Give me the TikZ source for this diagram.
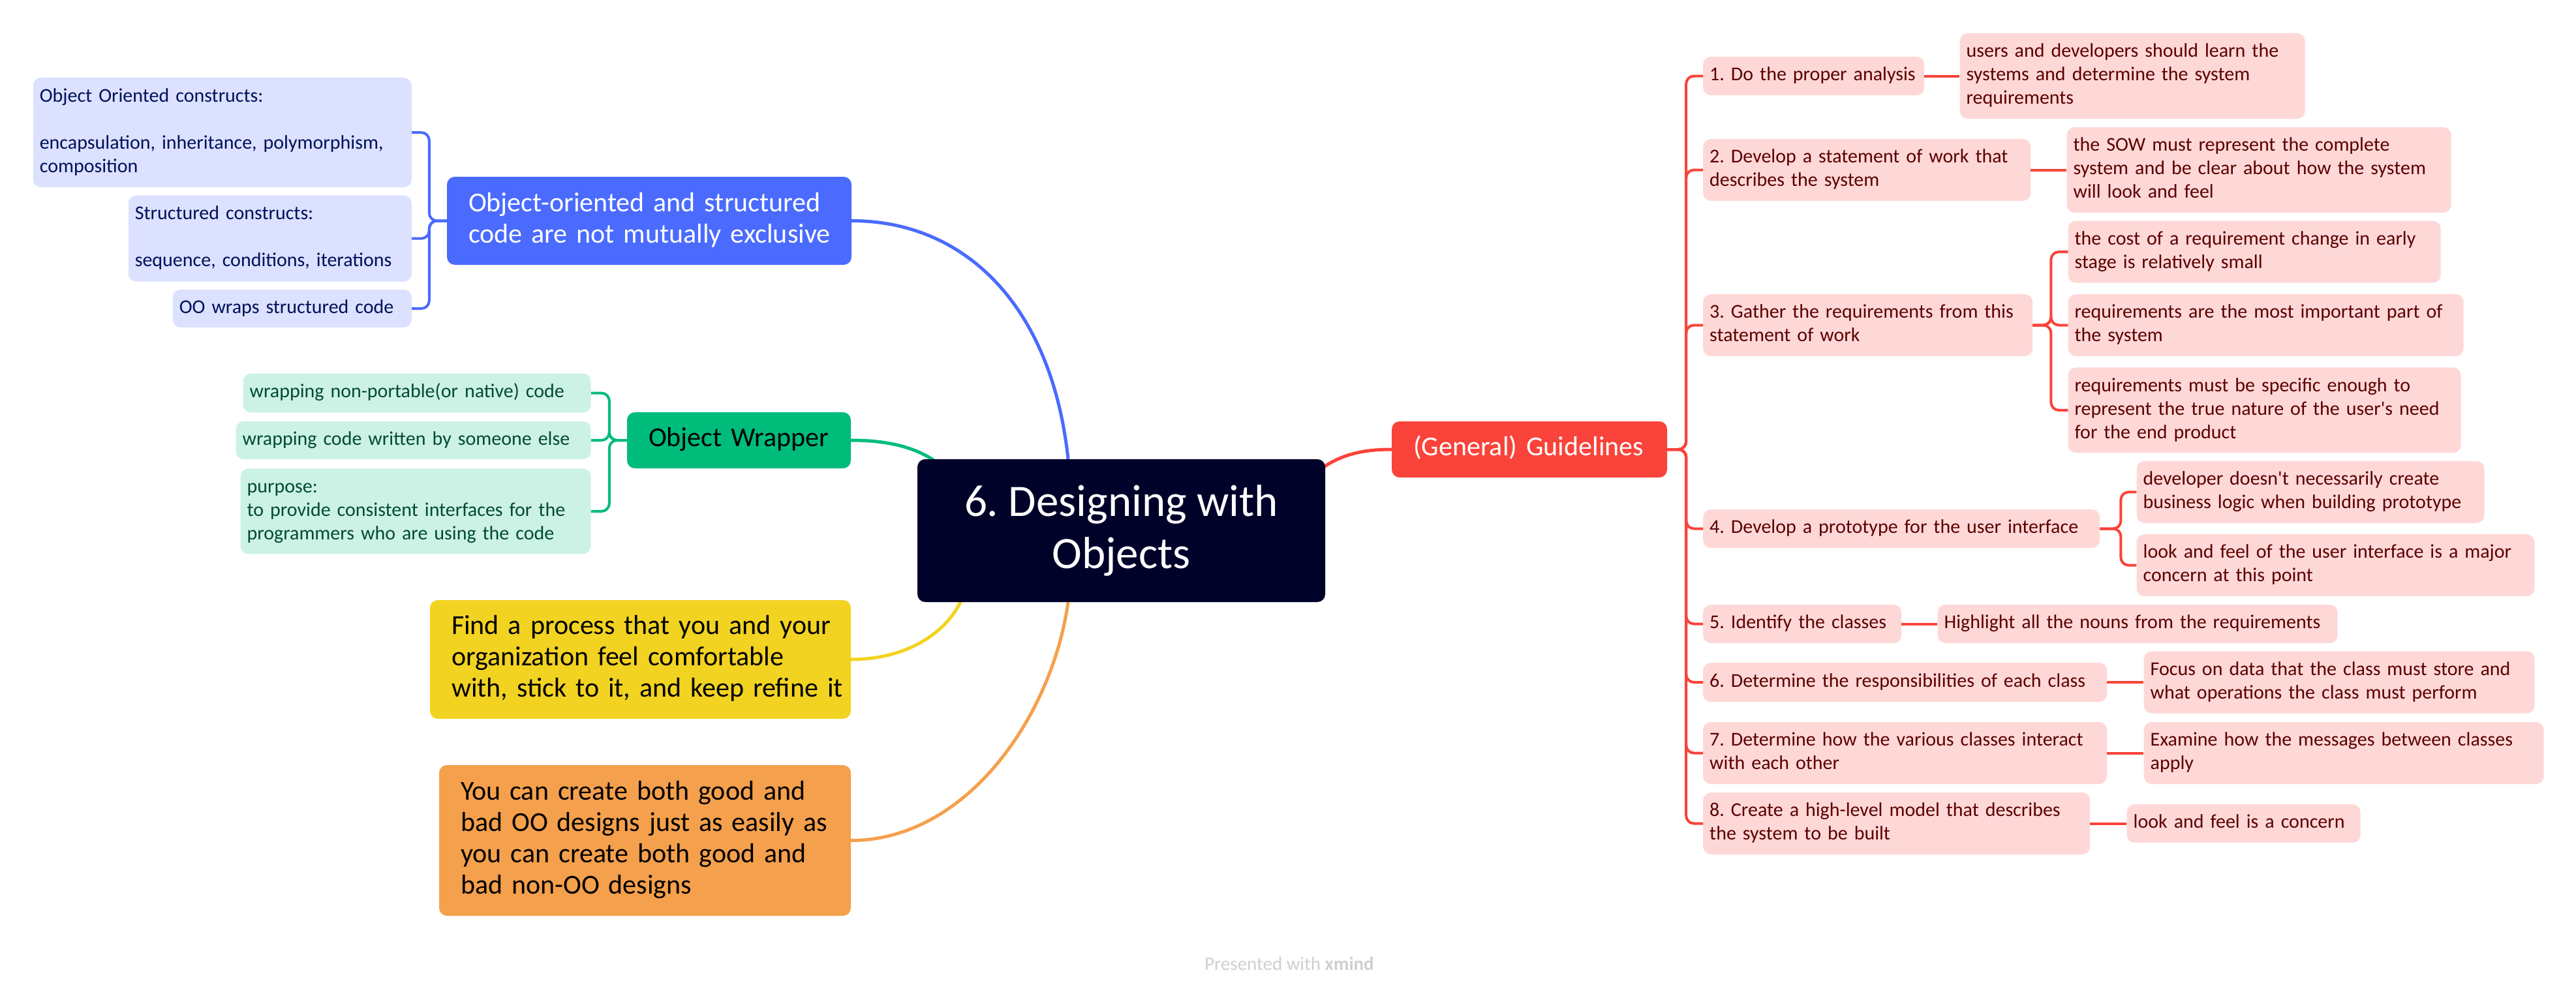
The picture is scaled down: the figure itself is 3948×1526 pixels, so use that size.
\documentclass[tikz,border=0pt]{standalone}
\usepackage{fontspec}
\setmainfont{Carlito}
\frenchspacing
\usetikzlibrary{positioning,backgrounds}
\definecolor{rootbg}{HTML}{000229}
\definecolor{bluemain}{HTML}{4A6BFE}
\definecolor{bluesoft}{HTML}{DBE1FE}
\definecolor{bluetext}{HTML}{00105A}
\definecolor{greenmain}{HTML}{00BC7B}
\definecolor{greensoft}{HTML}{CCF2E5}
\definecolor{greentext}{HTML}{004B30}
\definecolor{yellowmain}{HTML}{F2D321}
\definecolor{orangemain}{HTML}{F5A04C}
\definecolor{redmain}{HTML}{FA433A}
\definecolor{redsoft}{HTML}{FED8D7}
\definecolor{redtext}{HTML}{5C0000}
\definecolor{creditgray}{HTML}{CFCFCF}
\newcommand\topiclines[1]{\begin{tabular}{@{}l@{}}#1\end{tabular}} % keeps the lines as typed
\tikzset{
box/.style={rounded corners=12pt, inner ysep=2pt, execute at begin node=\noindent}, % shape shared by every topic
wh/.style 2 args={text width=#1, minimum height=#2}, % text width and box height
root/.style={rounded corners=12pt, fill=rootbg, text=white, align=center, minimum width=625pt, minimum height=219pt, font=\fontsize{69}{80}\selectfont}, % the central topic
topic/.style={box, inner xsep=33pt, font=\fontsize{42}{48}\selectfont}, % main topics round the centre
sub/.style={box, inner xsep=10pt, font=\fontsize{30}{36}\selectfont}, % subtopics
bluesub/.style={sub, fill=bluesoft, text=bluetext},
greensub/.style={sub, fill=greensoft, text=greentext},
redsub/.style={sub, fill=redsoft, text=redtext},
curve/.style={draw=#1, line width=5pt}, % curved links from the centre
branch/.style={draw=#1, line width=4pt, rounded corners=12pt}, % brackets to the subtopics
credit/.style={text=creditgray, font=\fontsize{29}{34}\selectfont},
}
\begin{document}
\begin{tikzpicture}[x=1pt, y=-1pt]
\useasboundingbox (0,0) rectangle (3948,1526);
\node[root] (root) at (1718.5,813.5) {6. Designing with\\Objects};
% left side
\node[topic, fill=bluemain, text=white, wh={554pt}{135pt}] (blue) at (995,338.5) {\topiclines{Object-oriented and structured\\code are not mutually exclusive}};
\node[bluesub, wh={560pt}{168pt}, anchor=north east] (oo) at (631,119) {\topiclines{Object Oriented constructs:\\[36pt]encapsulation, inheritance, polymorphism,\\composition}};
\node[bluesub, wh={414pt}{132pt}, below=12pt of oo.south east, anchor=north east] (st) {\topiclines{Structured constructs:\\[36pt]sequence, conditions, iterations}};
\node[bluesub, wh={346pt}{58pt}, below=12pt of st.south east, anchor=north east] (wr) {\topiclines{OO wraps structured code}};
\node[topic, fill=greenmain, text=black, wh={277pt}{86pt}] (wrap) at (1132.5,675) {\topiclines{Object Wrapper}};
\node[greensub, wh={524pt}{58pt}, left=55pt of wrap] (gw2) {\topiclines{wrapping code written by someone else}};
\node[greensub, wh={513pt}{60pt}, above=13pt of gw2.north east, anchor=south east] (gw1) {\topiclines{wrapping non-portable(or native) code}};
\node[greensub, wh={517pt}{131pt}, below=14pt of gw2.south east, anchor=north east] (gw3) {\topiclines{purpose:\\to provide consistent interfaces for the\\programmers who are using the code}};
\node[topic, fill=yellowmain, text=black, wh={579pt}{182pt}] (find) at (981.5,1011) {\topiclines{Find a process that you and your\\organization feel comfortable\\with, stick to it, and keep refine it}};
\node[topic, fill=orangemain, text=black, wh={565pt}{231pt}] (both) at (988.5,1288.5) {\topiclines{You can create both good and\\bad OO designs just as easily as\\you can create both good and\\bad non-OO designs}};
% right side
\node[topic, fill=redmain, text=white, wh={356pt}{86pt}] (gen) at (2344,689) {\topiclines{(General) Guidelines}};
\node[redsub, wh={319pt}{59pt}, anchor=west] (g1) at (2610,116.5) {\topiclines{1. Do the proper analysis}};
\node[redsub, wh={509pt}{131pt}, right=54pt of g1] (g1a) {\topiclines{users and developers should learn the\\systems and determine the system\\requirements}};
\node[redsub, wh={482pt}{95pt}, anchor=west] (g2) at (2610,260.5) {\topiclines{2. Develop a statement of work that\\describes the system}};
\node[redsub, wh={569pt}{131pt}, right=55pt of g2] (g2a) {\topiclines{the SOW must represent the complete\\system and be clear about how the system\\will look and feel}};
\node[redsub, wh={485pt}{95pt}, anchor=west] (g3) at (2610,498.5) {\topiclines{3. Gather the requirements from this\\statement of work}};
\node[redsub, wh={586pt}{95pt}, right=54pt of g3] (g3b) {\topiclines{requirements are the most important part of\\the system}};
\node[redsub, wh={551pt}{95pt}, above=17pt of g3b.north west, anchor=south west] (g3a) {\topiclines{the cost of a requirement change in early\\stage is relatively small}};
\node[redsub, wh={582pt}{131pt}, below=17pt of g3b.south west, anchor=north west] (g3c) {\topiclines{requirements must be specific enough to\\represent the true nature of the user\textquotesingle s need\\for the end product}};
\node[redsub, wh={588pt}{59pt}, anchor=west] (g4) at (2610,810.5) {\topiclines{4. Develop a prototype for the user interface}};
\node[redsub, wh={513pt}{95pt}, above right=8.5pt and 56pt of g4.east] (g4a) {\topiclines{developer doesn\textquotesingle t necessarily create\\business logic when building prototype}};
\node[redsub, wh={590pt}{95pt}, below right=8.5pt and 56pt of g4.east] (g4b) {\topiclines{look and feel of the user interface is a major\\concern at this point}};
\node[redsub, wh={284pt}{59pt}, anchor=west] (g5) at (2610,956.5) {\topiclines{5. Identify the classes}};
\node[redsub, wh={593pt}{59pt}, right=55pt of g5] (g5a) {\topiclines{Highlight all the nouns from the requirements}};
\node[redsub, wh={599pt}{60pt}, anchor=west] (g6) at (2610,1046) {\topiclines{6. Determine the responsibilities of each class}};
\node[redsub, wh={579pt}{95pt}, right=56pt of g6] (g6a) {\topiclines{Focus on data that the class must store and\\what operations the class must perform}};
\node[redsub, wh={599pt}{95pt}, anchor=west] (g7) at (2610,1154.5) {\topiclines{7. Determine how the various classes interact\\with each other}};
\node[redsub, wh={593pt}{95pt}, right=56pt of g7] (g7a) {\topiclines{Examine how the messages between classes\\apply}};
\node[redsub, wh={573pt}{95pt}, anchor=west] (g8) at (2610,1262.5) {\topiclines{8. Create a high-level model that describes\\the system to be built}};
\node[redsub, wh={338pt}{59pt}, right=56pt of g8] (g8a) {\topiclines{look and feel is a concern}};
\node[credit] (credit) at (1976,1477) {Presented with \textbf{xmind}};
% brackets
\foreach \n in {oo,st,wr} \draw[branch=bluemain] (blue.west) -- ++(-27,0) |- (\n.east);
\foreach \n in {gw1,gw2,gw3} \draw[branch=greenmain] (wrap.west) -- ++(-27,0) |- (\n.east);
\foreach \n in {g1,g2,g3,g4,g5,g6,g7,g8} \draw[branch=redmain] (gen.east) -- ++(29,0) |- (\n.west);
\foreach \n in {g3a,g3b,g3c} \draw[branch=redmain] (g3.east) -- ++(28,0) |- (\n.west);
\foreach \n in {g4a,g4b} \draw[branch=redmain] (g4.east) -- ++(32,0) |- (\n.west);
\foreach \a/\b in {g1/g1a,g2/g2a,g5/g5a,g6/g6a,g7/g7a,g8/g8a} \draw[branch=redmain] (\a.east) -- (\b.west);
\begin{pgfonlayer}{background}
\draw[curve=bluemain] (blue.east) .. controls (1480,338.5) and (1612,470) .. ([xshift=-81.5pt]root.north);
\draw[curve=greenmain] (wrap.east) .. controls (1390,675) and (1440,700) .. ([xshift=-250pt,yshift=-40pt]root.north);
\draw[curve=yellowmain] (find.east) .. controls (1400,1011) and (1465,960) .. ([xshift=-238pt,yshift=23pt]root.south);
\draw[curve=orangemain] (both.east) .. controls (1480,1288.5) and (1612,1100) .. ([xshift=-81.5pt]root.south);
\draw[curve=redmain] ([xshift=-30pt,yshift=-35pt]root.north east) .. controls (2040,700) and (2080,689) .. (gen.west);
\end{pgfonlayer}
\end{tikzpicture}
\end{document}
